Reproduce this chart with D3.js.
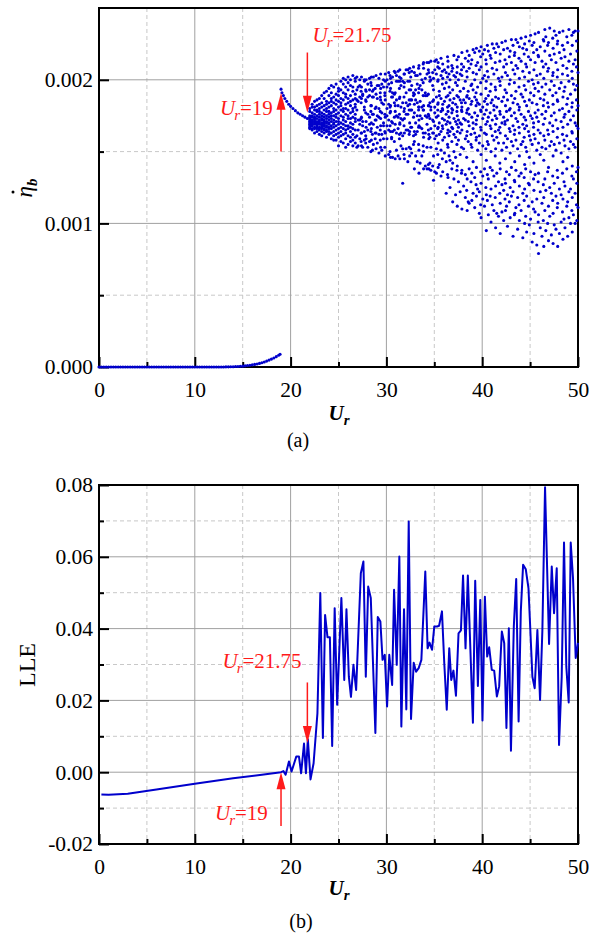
<!DOCTYPE html>
<html><head><meta charset="utf-8">
<script src="https://cdn.jsdelivr.net/npm/d3@7"></script>
<style>
body{margin:0;background:#fff}
svg{display:block}
text{font-family:"Liberation Serif","Times New Roman",serif;fill:#000}
</style>
</head><body>
<svg id="c" width="589" height="940"></svg>
<script>
// ---------------- DATA ----------------
const xMajor = [0,10,20,30,40,50];
const xMinor = [5,15,25,35,45];
const etaMajor = [0.000,0.001,0.002];
const etaMinor = [0.0005,0.0015,0.0025];
const lleMajor = [-0.02,0.00,0.02,0.04,0.06,0.08];
const lleMinor = [-0.01,0.01,0.03,0.05,0.07];

// panel (a): eta_b dot (values in units of 1e-3)
const lowUr = [0,0.25,0.5,0.75,1,1.25,1.5,1.75,2,2.25,2.5,2.75,3,3.25,3.5,3.75,4,4.25,4.5,4.75,5,5.25,5.5,5.75,6,6.25,6.5,6.75,7,7.25,7.5,7.75,8,8.25,8.5,8.75,9,9.25,9.5,9.75,10,10.25,10.5,10.75,11,11.25,11.5,11.75,12,12.25,12.5,12.75,13,13.25,13.5,13.75,14,14.25,14.5,14.75,15,15.25,15.5,15.75,16,16.25,16.5,16.75,17,17.25,17.5,17.75,18,18.25,18.5,18.75,18.9];
const lowEta = [0,0,0,0,0,0,0,0,0,0,0,0,0,0,0,0,0,0,0,0,0,0,0,0,0,0,0,0,0,0,0,0,0,0,0,0,0,0,0,0,0,0,0,0,0,0,0,0,0,0,0,0,0,
  0.001,0.001,0.002,0.002,0.003,0.004,0.005,0.006,0.008,0.010,0.012,0.015,0.018,0.021,0.025,0.030,0.035,0.041,0.048,0.055,0.063,0.072,0.082,0.089];
const branchUr = [19.0,19.1,19.25,19.4,19.6,19.8,20.0,20.25,20.5,20.75,21.0,21.25,21.5,21.75];
const branchEta = [1.935,1.91,1.89,1.87,1.85,1.83,1.815,1.80,1.785,1.77,1.76,1.75,1.74,1.73];
// chaotic cloud: [Ur, values...]
const cloud = [
[22.0,1.66,1.68,1.70,1.71,1.74,1.75,1.78,1.72,1.69,1.67,1.73,1.80],
[22.25,1.65,1.68,1.69,1.72,1.74,1.77,1.81,1.66,1.71,1.75,1.70,1.83],
[22.5,1.63,1.67,1.70,1.71,1.73,1.76,1.79,1.85,1.69,1.72,1.66,1.74,1.81],
[22.75,1.64,1.66,1.68,1.70,1.73,1.78,1.82,1.86,1.71,1.67,1.75,1.69,1.79],
[23.0,1.62,1.65,1.69,1.72,1.74,1.76,1.80,1.87,1.70,1.67,1.71,1.83,1.66,1.78],
[23.25,1.64,1.61,1.67,1.70,1.73,1.75,1.81,1.84,1.89,1.68,1.72,1.66,1.77,1.69],
[23.5,1.63,1.66,1.68,1.71,1.74,1.79,1.82,1.87,1.72,1.65,1.76,1.70,1.91,1.69],
[23.75,1.60,1.65,1.67,1.71,1.73,1.78,1.80,1.85,1.75,1.68,1.64,1.83,1.70,1.92],
[24.0,1.62,1.64,1.69,1.72,1.76,1.81,1.84,1.89,1.70,1.74,1.67,1.78,1.94,1.66],
[24.25,1.59,1.63,1.68,1.73,1.75,1.82,1.87,1.91,1.71,1.77,1.66,1.85,1.96],
[24.5,1.61,1.64,1.70,1.72,1.78,1.80,1.84,1.95,1.67,1.75,1.88,1.69,1.58],
[24.75,1.58,1.65,1.68,1.74,1.76,1.83,1.90,1.97,1.71,1.79,1.62,1.86],
[25.0,1.60,1.63,1.69,1.73,1.77,1.85,1.89,1.94,1.66,1.81,1.71,1.92,1.54],
[25.25,1.57,1.64,1.67,1.75,1.79,1.82,1.87,1.99,1.70,1.93,1.61,1.84],
[25.5,1.56,1.62,1.66,1.72,1.78,1.86,1.91,2.01,1.69,1.80,1.97,1.74],
[25.75,1.59,1.65,1.71,1.76,1.83,1.88,1.95,1.63,1.80,1.68,2.00,1.90,1.53],
[26.0,1.55,1.61,1.68,1.73,1.79,1.84,1.93,1.98,1.66,1.87,1.75,2.02],
[26.25,1.57,1.64,1.70,1.77,1.82,1.89,1.96,1.60,1.73,1.85,1.67,2.00],
[26.5,1.54,1.62,1.66,1.74,1.80,1.86,1.92,2.03,1.69,1.78,1.58,1.95],
[26.75,1.56,1.60,1.71,1.76,1.83,1.90,1.99,1.65,1.81,1.73,1.87,2.01],
[26.92,1.53,1.61,1.79,1.86,1.93,2.02],[27.05,1.54,1.65,1.72,1.85,1.95],
[27.22,1.59,1.69,1.72,1.88,1.96,2.00],[27.36,1.57,1.63,1.73,1.84,1.92],
[27.40,1.54,1.63,1.74,1.87,1.95,2.02],[27.52,1.53,1.68,1.71,1.89,1.90],
[27.70,1.58,1.64,1.79,1.81,1.99,2.00],[27.84,1.56,1.61,1.77,1.86,1.93],
[27.88,1.59,1.67,1.71,1.85,1.92,2.00],[28.06,1.53,1.65,1.76,1.88,1.97],
[28.24,1.57,1.69,1.74,1.89,1.93,2.01],[28.38,1.50,1.64,1.78,1.82,1.98],
[28.43,1.58,1.66,1.70,1.82,1.96,2.02],[28.54,1.51,1.62,1.76,1.88,1.92],
[28.64,1.55,1.69,1.76,1.88,1.93,2.02],[28.83,1.59,1.63,1.72,1.80,1.94],
[28.92,1.52,1.63,1.72,1.81,1.90,2.03],[29.05,1.56,1.67,1.75,1.87,1.96],
[29.22,1.49,1.62,1.74,1.80,1.96,2.01],[29.36,1.58,1.65,1.78,1.88,1.91],
[29.40,1.53,1.68,1.73,1.86,1.94,2.04],[29.52,1.51,1.62,1.77,1.84,1.97],
[29.70,1.59,1.68,1.70,1.83,1.95,2.00],[29.84,1.53,1.64,1.76,1.89,1.91],
[29.88,1.47,1.63,1.74,1.86,1.99,2.04],[30.06,1.59,1.68,1.75,1.80,1.95,2.00],
[30.24,1.48,1.65,1.72,1.83,1.97,2.05],[30.38,1.50,1.68,1.77,1.81,1.92,2.03],
[30.43,1.46,1.64,1.78,1.82,1.94,2.01],[30.54,1.59,1.60,1.71,1.88,1.98],
[30.64,1.46,1.64,1.70,1.88,1.91,2.02],[30.83,1.57,1.65,1.74,1.84,1.90,2.06],
[30.92,1.45,1.69,1.78,1.82,1.91,2.05],[31.05,1.51,1.63,1.75,1.86,1.99,2.03],
[31.22,1.47,1.66,1.74,1.82,1.99,2.06],[31.36,1.59,1.62,1.76,1.87,1.94,2.02],
[31.40,1.45,1.69,1.70,1.88,1.99,2.07],[31.52,1.54,1.63,1.73,1.81,1.96,2.01],
[31.70,1.28,1.52,1.61,1.72,1.84,1.99],[31.84,1.48,1.68,1.78,1.88,1.95,2.04],
[31.88,1.45,1.63,1.73,1.80,1.98,2.04],[32.06,1.52,1.65,1.76,1.84,1.91,2.07],
[32.24,1.43,1.65,1.76,1.82,1.99,2.07],[32.38,1.53,1.62,1.79,1.86,1.93,2.05],
[32.43,1.47,1.64,1.70,1.83,1.99,2.08],[32.54,1.52,1.67,1.79,1.86,1.93,2.02],
[32.64,1.49,1.67,1.79,1.86,1.96,2.06],[32.83,1.55,1.61,1.74,1.89,1.91,2.09],
[32.92,1.38,1.57,1.64,1.77,1.83,1.90,2.05],[33.05,1.47,1.62,1.70,1.86,1.93,2.03],
[33.22,1.43,1.64,1.75,1.84,1.97,2.03],[33.36,1.55,1.67,1.79,1.81,1.91,2.08],
[33.40,1.35,1.51,1.68,1.72,1.81,1.94,2.10],[33.52,1.42,1.67,1.75,1.85,1.96,2.04],
[33.70,1.47,1.66,1.73,1.81,1.93,2.00],[33.84,1.54,1.63,1.79,1.89,1.98,2.11],
[33.88,1.38,1.50,1.60,1.79,1.82,2.08,2.12],[34.06,1.40,1.63,1.75,1.89,1.91,2.01],
[34.24,1.38,1.53,1.69,1.74,1.89,2.04,2.12],[34.38,1.41,1.65,1.76,1.82,1.90,2.07],
[34.43,1.38,1.59,1.62,1.75,1.82,2.05,2.12],[34.54,1.42,1.60,1.73,1.84,1.99,2.02],
[34.64,1.37,1.53,1.66,1.79,1.81,2.00,2.13],[34.83,1.40,1.63,1.72,1.85,1.96,2.05],
[34.92,1.30,1.47,1.63,1.71,1.86,1.93,2.01],[35.05,1.36,1.59,1.68,1.77,1.81,2.07,2.13],
[35.22,1.35,1.52,1.61,1.74,1.88,2.04,2.14],[35.36,1.48,1.66,1.79,1.83,1.99,2.09],
[35.40,1.39,1.56,1.67,1.75,1.84,2.00,2.12],[35.52,1.41,1.62,1.70,1.89,1.92,2.08],
[35.70,1.33,1.51,1.64,1.78,1.87,2.03,2.15],[35.84,1.45,1.68,1.73,1.80,1.97,2.06],
[35.88,1.36,1.58,1.66,1.79,1.83,2.01,2.11],[36.06,1.49,1.60,1.72,1.85,1.94,2.07],
[36.24,1.21,1.43,1.69,1.76,1.88,1.98,2.05],[36.38,1.34,1.55,1.63,1.71,1.81,2.02,2.16],
[36.43,1.32,1.53,1.65,1.78,1.89,2.09,2.13],[36.54,1.47,1.61,1.74,1.82,1.95,2.04],
[36.64,1.25,1.44,1.64,1.70,1.86,1.91,2.00],[36.83,1.38,1.57,1.67,1.77,1.80,2.06,2.10],
[36.92,1.15,1.42,1.66,1.79,1.84,1.93,2.08],[37.05,1.31,1.50,1.62,1.73,1.87,2.03,2.17],
[37.22,1.20,1.46,1.60,1.71,1.83,1.98,2.02],[37.36,1.37,1.55,1.69,1.78,1.89,2.05,2.14],
[37.40,1.12,1.40,1.64,1.75,1.81,1.96,2.09],[37.52,1.29,1.58,1.67,1.72,1.88,2.00,2.16],
[37.70,1.22,1.48,1.63,1.70,1.86,1.92,2.04],[37.84,1.35,1.53,1.69,1.79,1.84,2.07,2.11],
[37.88,1.10,1.37,1.65,1.78,1.81,2.03,2.19],[38.06,1.26,1.52,1.73,1.86,1.94,2.09],
[38.24,1.18,1.34,1.59,1.72,1.84,1.99,2.15],[38.38,1.23,1.46,1.61,1.77,1.88,2.06],
[38.43,1.09,1.31,1.64,1.79,1.89,2.02,2.20],[38.54,1.15,1.57,1.71,1.80,1.92,2.13],
[38.64,1.14,1.38,1.68,1.76,1.87,2.08,2.17],[38.83,1.29,1.55,1.62,1.83,1.96,2.11],
[38.92,1.16,1.35,1.53,1.74,1.85,1.97,2.14],[39.05,1.21,1.43,1.66,1.70,1.93,2.05,2.21],
[39.22,1.11,1.32,1.63,1.77,1.88,2.00,2.19],[39.36,1.27,1.58,1.69,1.82,1.91,2.10],
[39.40,1.19,1.39,1.60,1.72,1.86,2.04,2.22],[39.52,1.24,1.51,1.75,1.84,1.95,2.12],
[39.70,1.07,1.22,1.56,1.61,1.83,2.07,2.20],[39.84,1.13,1.36,1.67,1.79,1.98,2.16],
[39.88,1.04,1.28,1.48,1.65,1.78,1.90,2.09,2.23],[40.06,1.17,1.33,1.54,1.73,1.81,2.01,2.18],
[40.24,1.12,1.38,1.63,1.76,1.85,2.03,2.21],[40.38,1.25,1.52,1.69,1.87,1.94,2.14],
[40.43,0.95,1.20,1.44,1.62,1.79,1.99,2.11],[40.54,1.16,1.34,1.57,1.71,1.83,2.06,2.24],
[40.64,1.06,1.31,1.55,1.74,1.89,2.02,2.20],[40.83,1.19,1.39,1.68,1.77,1.92,2.17],
[40.92,1.01,1.24,1.50,1.66,1.84,1.97,2.15],[41.05,1.13,1.37,1.61,1.72,1.86,2.08,2.25],
[41.22,1.09,1.33,1.58,1.79,1.82,2.04,2.22],[41.36,1.18,1.47,1.64,1.75,1.95,2.12],
[41.40,0.97,1.26,1.52,1.69,1.88,1.93,2.19],[41.52,1.07,1.35,1.60,1.73,1.81,2.07,2.25],
[41.70,1.05,1.29,1.56,1.65,1.87,2.01,2.23],[41.84,1.21,1.42,1.67,1.78,1.99,2.13],
[41.88,0.93,1.14,1.38,1.63,1.76,1.96,2.18],[42.06,1.08,1.27,1.51,1.70,1.85,2.02,2.26],
[42.24,1.02,1.23,1.56,1.74,1.88,2.09,2.21],[42.38,1.17,1.31,1.69,1.71,1.93,2.14],
[42.43,1.09,1.28,1.45,1.61,1.82,2.05,2.27],[42.54,1.12,1.36,1.53,1.78,1.91,2.11],
[42.64,0.98,1.20,1.59,1.72,1.86,2.03,2.22],[42.83,1.15,1.34,1.66,1.79,1.97,2.16],
[42.92,1.04,1.25,1.49,1.64,1.80,2.00,2.20],[43.05,1.19,1.39,1.57,1.75,1.89,2.12,2.28],
[43.22,0.91,1.22,1.54,1.68,1.84,2.07,2.24],[43.36,1.06,1.30,1.62,1.77,1.98,2.17],
[43.40,1.07,1.29,1.43,1.65,1.87,2.04,2.19],[43.52,1.11,1.37,1.58,1.73,1.92,2.10,2.28],
[43.70,0.96,1.18,1.52,1.71,1.83,2.08,2.26],[43.84,1.13,1.33,1.67,1.79,1.95,2.15],
[43.88,1.02,1.26,1.47,1.63,1.81,2.01,2.23],[44.06,1.09,1.35,1.55,1.76,1.90,2.13,2.29],
[44.24,0.90,1.21,1.57,1.69,1.88,2.06,2.22],[44.38,1.16,1.32,1.60,1.74,1.96,2.18],
[44.43,1.00,1.24,1.41,1.66,1.85,2.02,2.25],[44.54,1.05,1.38,1.53,1.72,1.93,2.11,2.30],
[44.64,0.94,1.19,1.50,1.68,1.82,2.09,2.21],[44.83,1.12,1.28,1.64,1.78,1.99,2.16],
[44.92,0.99,1.27,1.46,1.61,1.86,2.05,2.27],[45.05,1.03,1.36,1.58,1.75,1.91,2.14,2.31],
[45.22,0.87,1.15,1.55,1.73,1.84,2.00,2.24],[45.36,1.10,1.31,1.67,1.70,1.97,2.19],
[45.40,0.93,1.23,1.42,1.62,1.89,2.07,2.26],[45.52,1.08,1.34,1.59,1.77,1.94,2.12,2.32],
[45.70,0.85,1.17,1.51,1.74,1.83,2.03,2.21],[45.84,1.01,1.29,1.65,1.79,1.98,2.17],
[45.88,0.79,1.06,1.35,1.56,1.71,1.92,2.16,2.33],[46.06,0.97,1.22,1.48,1.63,1.87,2.04,2.23],
[46.24,0.91,1.14,1.53,1.76,1.95,2.13],[46.38,1.02,1.27,1.69,1.82,2.09,2.28],
[46.43,0.84,1.18,1.44,1.61,1.86,2.01,2.27],[46.54,1.09,1.31,1.58,1.73,1.90,2.20,2.35],
[46.64,0.95,1.23,1.52,1.78,1.97,2.11,2.30],[46.83,1.00,1.36,1.65,1.84,2.06,2.24],
[46.92,0.88,1.12,1.39,1.62,1.81,2.08,2.26],[47.05,1.05,1.25,1.54,1.70,1.93,2.17,2.36],
[47.22,0.92,1.21,1.57,1.75,1.99,2.14],[47.36,1.16,1.33,1.68,1.89,2.03,2.29],
[47.40,0.86,1.07,1.47,1.64,1.83,2.05,2.22],[47.52,0.99,1.28,1.55,1.77,1.96,2.18,2.34],
[47.70,0.96,1.19,1.51,1.72,1.91,2.12,2.31],[47.84,1.11,1.37,1.60,1.86,2.02,2.25],
[47.88,0.84,1.14,1.32,1.66,1.85,2.07,2.27],[48.06,0.93,1.24,1.56,1.79,1.94,2.19,2.33],
[48.24,1.01,1.20,1.49,1.71,1.98,2.15],[48.38,1.08,1.35,1.62,1.80,2.04,2.24],
[48.43,0.89,1.17,1.43,1.67,1.88,2.10,2.34],[48.54,1.03,1.29,1.58,1.74,1.92,2.21],
[48.64,0.97,1.26,1.54,1.76,1.95,2.16],[48.83,1.12,1.38,1.61,1.83,2.08,2.30],
[48.92,0.91,1.15,1.46,1.69,1.87,2.03,2.26],[49.05,1.04,1.22,1.52,1.78,1.99,2.13,2.35],
[49.22,1.00,1.24,1.57,1.72,1.90,2.18],[49.36,1.09,1.33,1.64,1.81,2.06,2.31],
[49.40,0.94,1.18,1.40,1.63,1.84,2.01,2.24],[49.52,1.06,1.31,1.55,1.75,1.97,2.11,2.33],
[49.70,1.00,1.21,1.53,1.70,1.93,2.14,2.34],[49.84,1.13,1.36,1.68,1.86,2.09,2.27],
[49.88,1.02,1.28,1.59,1.79,1.96,2.20],[50.0,1.11,1.39,1.66,1.82,2.05,2.34]
];

// panel (b): largest Lyapunov exponent
const lleUr = [0.25,1.0,3.0,6.0,10.0,14.0,17.0,19.0,19.25,19.48,19.83,20.1,20.6,20.87,21.1,21.4,21.6,21.8,22.08,22.4,22.8,23.1,23.37,23.6,23.85,24.1,24.34,24.6,24.86,25.3,25.6,25.83,26.08,26.3,26.56,26.84,27.33,27.6,27.85,28.1,28.37,28.85,29.1,29.37,29.6,29.83,30.07,30.3,30.6,30.8,31.08,31.35,31.56,31.84,32.08,32.33,32.57,32.85,33.1,33.37,33.65,34.06,34.3,34.5,34.76,35.0,35.3,35.5,35.8,36.04,36.3,36.56,36.77,37.0,37.26,37.53,37.78,38.0,38.26,38.5,39.03,39.27,39.55,39.8,40.03,40.28,40.52,40.73,41.0,41.25,41.53,41.77,42.05,42.3,42.53,42.78,43.0,43.3,43.55,43.8,44.03,44.27,44.55,44.83,45.24,45.48,45.76,46.04,46.28,46.56,46.98,47.26,47.5,47.78,48.02,48.3,48.54,48.78,49.03,49.24,49.48,49.76,50.0];
const lleVal = [-0.0062,-0.0063,-0.0060,-0.0048,-0.0032,-0.0017,-0.0007,0.0000,0.0003,-0.0007,0.0030,0.0002,0.0044,0.0044,-0.0003,0.0080,-0.0003,0.0092,-0.0020,0.0025,0.0164,0.0499,0.0095,0.0438,0.0376,0.0376,0.0073,0.0457,0.0188,0.0485,0.0257,0.0454,0.0266,0.0210,0.0299,0.0229,0.0554,0.0587,0.0266,0.0517,0.0485,0.0109,0.0432,0.0420,0.0313,0.0327,0.0183,0.0327,0.0243,0.0508,0.0299,0.0601,0.0127,0.0454,0.0175,0.0698,0.0148,0.0305,0.0280,0.0290,0.0313,0.0559,0.0345,0.0361,0.0341,0.0406,0.0406,0.0408,0.0448,0.0304,0.0174,0.0345,0.0257,0.0283,0.0213,0.0387,0.0395,0.0548,0.0345,0.0548,0.0138,0.0533,0.0240,0.0480,0.0144,0.0489,0.0322,0.0348,0.0285,0.0283,0.0211,0.0239,0.0392,0.0359,0.0123,0.0401,0.0060,0.0406,0.0538,0.0141,0.0448,0.0578,0.0565,0.0513,0.0266,0.0234,0.0396,0.0201,0.0394,0.0794,0.0357,0.0573,0.0443,0.0568,0.0076,0.0266,0.0640,0.0294,0.0194,0.0640,0.0540,0.0318,0.0360];

// ---------------- DRAWING ----------------
const svg = d3.select("#c");
const BLUE = "#0000cc", RED = "#ff1a1a";
const FONT = "'Liberation Serif', 'Times New Roman', serif";
const TICKFS = 21.5;

function panel(top, bottom, yDomain, yMajor, yMinor) {
  const x = d3.scaleLinear().domain([0,50]).range([99,578]);
  const y = d3.scaleLinear().domain(yDomain).range([bottom, top]);
  const g = svg.append("g");
  g.append("g").selectAll("line").data(xMinor).join("line")
    .attr("x1", d=>x(d)).attr("x2", d=>x(d)).attr("y1", top).attr("y2", bottom)
    .attr("stroke","#c8c8c8").attr("stroke-width",1).attr("stroke-dasharray","4,3");
  g.append("g").selectAll("line").data(yMinor.filter(v=>y(v)>top+1)).join("line")
    .attr("y1", d=>y(d)).attr("y2", d=>y(d)).attr("x1", 99).attr("x2", 578)
    .attr("stroke","#c8c8c8").attr("stroke-width",1).attr("stroke-dasharray","4,3");
  g.append("g").selectAll("line").data(xMajor.slice(1,-1)).join("line")
    .attr("x1", d=>x(d)).attr("x2", d=>x(d)).attr("y1", top).attr("y2", bottom)
    .attr("stroke","#a0a0a0").attr("stroke-width",1);
  g.append("g").selectAll("line").data(yMajor.filter(v=>y(v)>top+1 && y(v)<bottom-1)).join("line")
    .attr("y1", d=>y(d)).attr("y2", d=>y(d)).attr("x1", 99).attr("x2", 578)
    .attr("stroke","#a0a0a0").attr("stroke-width",1);
  return {x, y, g};
}

function axes(p, top, bottom, yMajor, yMinor, yFmt) {
  const {x, y, g} = p;
  g.append("g").attr("transform",`translate(0,${bottom})`)
    .call(d3.axisBottom(x).tickValues(xMajor).tickSize(-10).tickPadding(15).tickFormat(d3.format("d")));
  g.append("g").attr("transform",`translate(0,${bottom})`)
    .call(d3.axisBottom(x).tickValues(xMinor).tickSize(-5).tickFormat(""));
  g.append("g").attr("transform","translate(99,0)")
    .call(d3.axisLeft(y).tickValues(yMajor).tickSize(-10).tickPadding(6).tickFormat(yFmt));
  g.append("g").attr("transform","translate(99,0)")
    .call(d3.axisLeft(y).tickValues(yMinor.filter(v=>y(v)>top+1)).tickSize(-5).tickFormat(""));
  g.selectAll(".domain").remove();
  g.selectAll(".tick line").attr("stroke","#000").attr("stroke-width",2);
  g.selectAll(".tick text").attr("font-size",TICKFS).style("font-family",FONT).attr("fill","#000");
  g.append("rect").attr("x",99).attr("y",top).attr("width",479).attr("height",bottom-top)
    .attr("fill","none").attr("stroke","#000").attr("stroke-width",2);
}

function urLabel(cx, base) {
  const t = svg.append("text").attr("x",cx).attr("y",base).attr("text-anchor","middle")
    .style("font-family",FONT).attr("font-weight","bold").attr("font-style","italic").attr("font-size",21);
  t.append("tspan").text("U");
  t.append("tspan").attr("font-size",15).attr("dy",5).text("r");
}

function annot(px, base, value) {
  const t = svg.append("text").attr("x",px).attr("y",base).attr("font-size",21)
    .style("font-family",FONT).style("fill",RED);
  t.append("tspan").attr("font-style","italic").text("U");
  t.append("tspan").attr("font-style","italic").attr("font-size",15).attr("dy",5).attr("dx",-1).text("r");
  t.append("tspan").attr("dy",-5).text("=" + value);
}

function arrow(x, yTail, yTip) {
  const dir = yTip < yTail ? -1 : 1; // -1 = pointing up
  const headLen = 17, hw = 4.5;
  svg.append("line").attr("x1",x).attr("x2",x).attr("y1",yTail).attr("y2",yTip - dir*headLen*0.6)
    .attr("stroke",RED).attr("stroke-width",1.5);
  svg.append("path").attr("d",`M${x},${yTip} L${x-hw},${yTip-dir*headLen} L${x+hw},${yTip-dir*headLen} Z`)
    .attr("fill",RED);
}

// ---- Panel (a)
const A_TOP = 8, A_BOT = 367;
const pa = panel(A_TOP, A_BOT, [0,0.0025], etaMajor, etaMinor);
const ptsA = [];
lowUr.forEach((u,i)=>ptsA.push([u, lowEta[i]]));
branchUr.forEach((u,i)=>ptsA.push([u, branchEta[i]]));
cloud.forEach(col=>col.slice(1).forEach(v=>ptsA.push([col[0], v])));
axes(pa, A_TOP, A_BOT, etaMajor, etaMinor, d3.format(".3f"));
pa.g.append("g").selectAll("circle").data(ptsA).join("circle")
  .attr("cx", d=>pa.x(d[0])).attr("cy", d=>pa.y(d[1]*1e-3)).attr("r",1.55).attr("fill",BLUE);

// y label (a): eta-dot with subscript b
{
  const t = svg.append("text").attr("transform","translate(32,188) rotate(-90)")
    .attr("text-anchor","middle").style("font-family",FONT).attr("font-size",23).attr("font-style","italic");
  t.append("tspan").text("\u03B7");
  t.append("tspan").attr("font-size",15).attr("font-weight","bold").attr("dy",5).text("b");
  svg.append("circle").attr("cx",13).attr("cy",192).attr("r",1.5).attr("fill","#000");
}
urLabel(339, 420);
svg.append("text").attr("x",298).attr("y",447).attr("text-anchor","middle").attr("font-size",20).text("(a)");

annot(220, 115, "19");
arrow(pa.x(19), pa.y(0.0015), pa.y(0.00191));
annot(312.5, 42, "21.75");
arrow(pa.x(21.75), pa.y(0.00219), pa.y(0.00177));

// ---- Panel (b)
const B_TOP = 485, B_BOT = 844;
const pb = panel(B_TOP, B_BOT, [-0.02,0.08], lleMajor, lleMinor);
axes(pb, B_TOP, B_BOT, lleMajor, lleMinor, d=>d.toFixed(2));
pb.g.append("path").datum(lleUr.map((u,i)=>[u, lleVal[i]]))
  .attr("fill","none").attr("stroke",BLUE).attr("stroke-width",2).attr("stroke-linejoin","round")
  .attr("d", d3.line().x(d=>pb.x(d[0])).y(d=>pb.y(d[1])));
svg.append("text").attr("transform","translate(35,665) rotate(-90)")
  .attr("text-anchor","middle").attr("font-size",24).text("LLE");
urLabel(339, 895);
svg.append("text").attr("x",301).attr("y",928).attr("text-anchor","middle").attr("font-size",20).text("(b)");

annot(222.5, 668, "21.75");
arrow(pb.x(21.75), pb.y(0.025), pb.y(0.0081));
annot(215, 820, "19");
arrow(pb.x(19), pb.y(-0.015), pb.y(0.0));
</script>
</body></html>
